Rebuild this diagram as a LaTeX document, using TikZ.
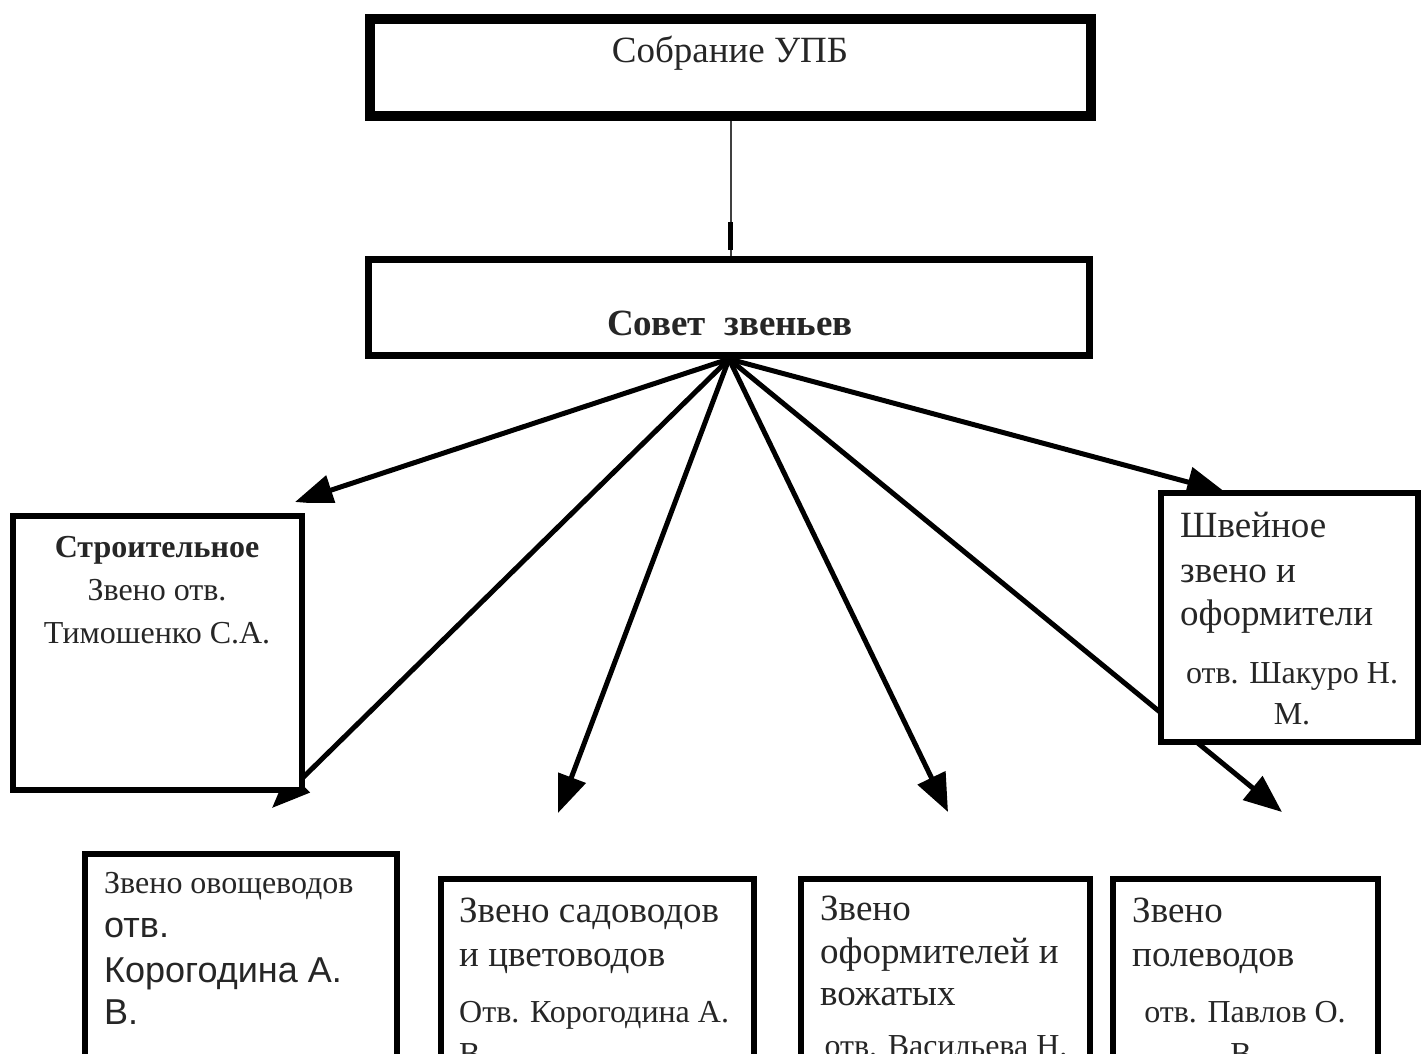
\documentclass[tikz,border=0pt]{standalone}
\usepackage{fontspec}
\setmainfont{Liberation Serif}
\newfontfamily\arialf{Liberation Sans}
\usetikzlibrary{arrows.meta,decorations.markings}
\begin{document}
\begin{tikzpicture}[x=1pt,y=-1pt,
  box/.style={draw=black,fill=white,inner sep=0pt},
  txt/.style={inner sep=0pt,text=black!85},
  big/.style={txt,font=\fontsize{37}{42}\selectfont},
  mid/.style={txt,font=\fontsize{32}{38}\selectfont},
  sml/.style={txt,font=\fontsize{32}{36}\selectfont},
  sans/.style={txt,font=\arialf\fontsize{36}{42}\selectfont},
  arr/.style={line width=5pt,-{Triangle[length=38pt,width=30pt]}}]
\useasboundingbox (0,0) rectangle (1421,1054);
\clip (0,0) rectangle (1421,1054);

% top boxes
\node[box,line width=10pt,minimum width=721pt,minimum height=97pt] (upb) at (730.5,67.5) {};
\node[box,line width=7pt,minimum width=721pt,minimum height=96pt] (sovet) at (729,307.5) {};
\node[txt,font=\fontsize{37}{42}\selectfont,anchor=base] (tupb) at (730,63) {Собрание УПБ};
\node[txt,font=\bfseries\fontsize{37}{42}\selectfont,anchor=base] (tsov) at (730,335) {Совет\ \ звеньев};

% vertical connector
\draw[line width=2pt,black!75,postaction={decorate},
  decoration={markings,mark=at position 0.85 with {\fill[black] (-14,-2.5) rectangle (14,2.5);}}]
  (upb.south) -- (upb.south |- sovet.north);

% arrow tips
\coordinate (t1) at (295,502);
\coordinate (t2) at (272,808);
\coordinate (t3) at (558,813);
\coordinate (t4) at (948,812);
\coordinate (t5) at (1282,812);
\coordinate (t6) at (1225,492);
\foreach \t in {t1,t2,t3,t4,t5,t6}{
  \begin{scope}
    \clip (sovet.south) rectangle (\t);
    \draw[arr] (sovet.south) -- (\t);
  \end{scope}
}

% left box
\node[box,line width=6pt,minimum width=289pt,minimum height=274pt] (stroi) at (157.5,653) {};
\node[sml,font=\bfseries\fontsize{32}{36}\selectfont,anchor=base] (s1) at (157,557) {Строительное};
\node[sml,anchor=base] (s2) at (157,600) {Звено отв.};
\node[sml,anchor=base] (s3) at (157,643) {Тимошенко С.А.};

% right box
\node[box,line width=6pt,minimum width=257pt,minimum height=249pt] (shv) at (1289.5,617.5) {};
\node[big,anchor=base west] (w1) at (1180,537) {Швейное};
\node[big,anchor=base west] (w2) at (1180,582) {звено и};
\node[big,anchor=base west] (w3) at (1180,625) {оформители};
\node[mid,anchor=base] (w4) at (1292,683) {отв. Шакуро Н.};
\node[mid,anchor=base] (w5) at (1292,724) {М.};

% bottom boxes
\node[box,line width=6pt,minimum width=312pt,minimum height=296pt] (ova) at (241,1002) {};
\node[mid,anchor=base west] (a1) at (104,893) {Звено овощеводов};
\node[sans,anchor=base west] (a2) at (104,937) {отв.};
\node[sans,anchor=base west] (a3) at (104,982) {Корогодина А.};
\node[sans,anchor=base west] (a4) at (104,1024) {В.};

\node[box,line width=6pt,minimum width=313pt,minimum height=271pt] (sad) at (597.5,1014.5) {};
\node[big,anchor=base west] (b1) at (459,922) {Звено садоводов};
\node[big,anchor=base west] (b2) at (459,966) {и цветоводов};
\node[mid,anchor=base west] (b3) at (459,1022) {Отв. Корогодина А.};
\node[mid,anchor=base west] (b4) at (459,1064) {В.};

\node[box,line width=6pt,minimum width=289pt,minimum height=271pt] (ofo) at (945.5,1014.5) {};
\node[big,anchor=base west] (c1) at (820,920) {Звено};
\node[big,anchor=base west] (c2) at (820,963) {оформителей и};
\node[big,anchor=base west] (c3) at (820,1005) {вожатых};
\node[mid,anchor=base] (c4) at (946,1056) {отв. Васильева Н.};

\node[box,line width=6pt,minimum width=265pt,minimum height=271pt] (pol) at (1245.5,1014.5) {};
\node[big,anchor=base west] (d1) at (1132,922) {Звено};
\node[big,anchor=base west] (d2) at (1132,966) {полеводов};
\node[mid,anchor=base] (d3) at (1245,1022) {отв. Павлов О.};
\node[mid,anchor=base] (d4) at (1245,1064) {В.};
\end{tikzpicture}
\end{document}
